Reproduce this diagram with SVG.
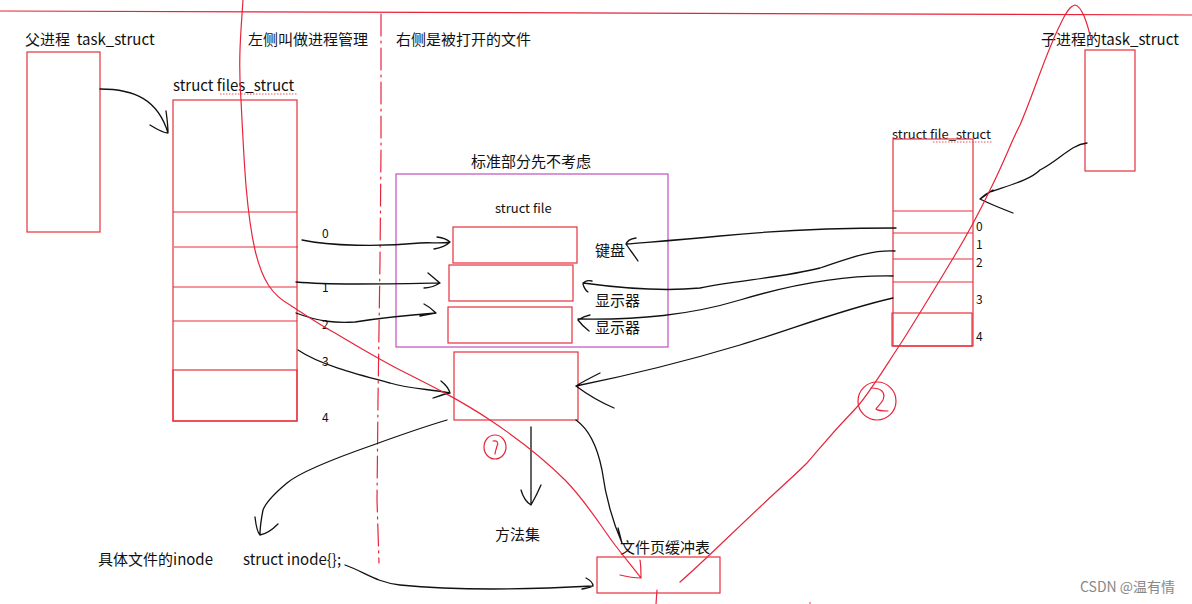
<svg xmlns="http://www.w3.org/2000/svg" width="1192" height="604" viewBox="0 0 1192 604">
<style>
text{font-family:"Noto Sans CJK SC","Liberation Sans",sans-serif;fill:#111;font-size:15px;white-space:pre}
.s{font-size:13px}
.n{font-size:12px}
.box{fill:none;stroke:#e8303c;stroke-width:1.2}
.pbox{fill:none;stroke:#c24fc0;stroke-width:1.2}
.ink{fill:none;stroke:#111;stroke-width:1.3;stroke-linecap:round;stroke-linejoin:round}
.red{fill:none;stroke:#e8243a;stroke-width:1.2;stroke-linecap:round;stroke-linejoin:round}
.wave{fill:none;stroke:#e8243a;stroke-width:0.8;stroke-dasharray:1.5 1.5}
</style>
<rect width="1192" height="604" fill="#fff"/>
<!-- top line & divider -->
<path class="red" d="M0,11 L1192,15"/>
<path class="red" d="M381,14 L381,150 L380,260 L378,400 L377,500 L379,563" stroke-dasharray="22 5 2 5" stroke-linecap="butt"/>

<g id="parent-task">
<text x="25" y="45" xml:space="preserve">父进程  task_struct</text>
<rect class="box" x="27" y="52" width="73" height="180"/>
</g>

<g id="titles">
<text x="248" y="45">左侧叫做进程管理</text>
<text x="396" y="45">右侧是被打开的文件</text>
</g>

<g id="files-struct">
<text x="173" y="91">struct files_struct</text>
<path class="wave" d="M220,94 L297,94"/>
<rect class="box" x="173" y="100" width="124" height="321"/>
<path class="box" d="M173,212 H297 M174,247 H298 M173,287 H297 M173,321 H297"/>
<rect class="box" x="173" y="370" width="124" height="51" stroke-width="2"/>
<text class="n" x="322" y="238">0</text>
<text class="n" x="322" y="292">1</text>
<text class="n" x="322" y="329">2</text>
<text class="n" x="322" y="366">3</text>
<text class="n" x="322" y="422">4</text>
</g>

<g id="struct-file">
<text x="471" y="167">标准部分先不考虑</text>
<rect class="pbox" x="396" y="174" width="272" height="173"/>
<text class="s" x="495" y="213">struct file</text>
<rect class="box" x="453" y="227" width="124" height="36"/>
<rect class="box" x="449" y="265" width="124" height="36"/>
<rect class="box" x="448" y="307" width="124" height="36"/>
<text x="595" y="256">键盘</text>
<text x="595" y="306">显示器</text>
<text x="595" y="333">显示器</text>
</g>

<g id="file-4">
<rect class="box" x="454" y="352" width="124" height="68"/>
</g>

<g id="file-struct-child">
<text class="s" x="892" y="139">struct file_struct</text>
<path class="wave" d="M933,142 L993,142"/>
<rect class="box" x="893" y="139" width="80" height="207"/>
<path class="box" d="M893,211 H973 M893,233 H973 M893,259 H973 M893,282 H973"/>
<rect class="box" x="892" y="313" width="80" height="33" stroke-width="1.5"/>
<text class="n" x="976" y="231">0</text>
<text class="n" x="976" y="249">1</text>
<text class="n" x="976" y="267">2</text>
<text class="n" x="976" y="304">3</text>
<text class="n" x="976" y="341">4</text>
</g>

<g id="child-task">
<text x="1041" y="45">子进程的task_struct</text>
<rect class="box" x="1085" y="50" width="50" height="121"/>
</g>

<g id="methods">
<text x="495" y="540">方法集</text>
</g>

<g id="inode">
<text x="98" y="565">具体文件的inode</text>
<text x="243" y="565">struct inode{};</text>
</g>

<g id="page-cache">
<text x="620" y="553">文件页缓冲表</text>
<rect class="box" x="597" y="557" width="123" height="36"/>
</g>

<g id="connectors">
<!-- parent -> files_struct -->
<path class="ink" d="M100,89 C135,89 158,100 168,133 M150,125 C158,130 163,133 168,133 C168,125 167,118 166,111"/>
<!-- fd 0..3 -> struct file -->
<path class="ink" d="M302,240 C330,246 380,247 420,243 C430,242 440,244 450,242 M437,237 C444,238 448,240 450,242 C446,246 440,248 434,249"/>
<path class="ink" d="M296,282 C330,285 380,284 440,283 M428,273 C433,277 437,281 440,283 C435,286 430,288 424,288"/>
<path class="ink" d="M296,313 C320,322 335,323 355,322 C380,318 410,315 436,313 M424,304 C430,307 433,310 436,313 C430,314 425,315 420,316"/>
<path class="ink" d="M298,350 C320,365 360,375 390,383 C410,389 430,389 450,393 M441,381 C446,385 449,389 450,393 C444,394 439,396 433,398"/>
<!-- child fd -> devices -->
<path class="ink" d="M896,228 C840,228 780,230 720,236 C680,240 650,242 626,244 M636,238 C630,239 627,241 626,244 C630,250 634,255 638,261"/>
<path class="ink" d="M895,251 C870,250 850,258 820,268 C780,278 740,280 700,288 C660,292 620,288 583,283 M592,281 C587,280 584,282 583,284 C584,288 585,290 588,292"/>
<path class="ink" d="M893,276 C840,275 790,285 740,300 C690,315 640,320 578,319 M590,315 C585,316 581,318 578,320 C581,324 585,328 589,331"/>
<path class="ink" d="M893,298 C840,310 790,330 740,345 C690,360 640,373 576,386 M600,373 C592,377 584,381 576,386 C588,395 600,402 614,408"/>
<!-- child task -> file_struct -->
<path class="ink" d="M1087,143 C1070,145 1060,160 1040,170 C1030,180 1010,185 990,192 C986,195 982,198 980,199 M993,190 C987,193 982,197 980,199 C990,204 1000,208 1013,213"/>
<!-- file -> inode -->
<path class="ink" d="M447,420 C420,428 395,437 373,445 C330,460 300,472 287,483 C275,493 266,502 263,510 C261,520 260,528 260,535 M255,517 C256,526 257,532 260,535 C266,534 272,530 278,524"/>
<!-- file -> methods -->
<path class="ink" d="M531,427 L531,505 M521,490 C523,497 526,502 531,505 C535,498 538,492 541,485"/>
<!-- file -> page cache -->
<path class="ink" d="M576,420 C590,430 598,450 602,470 C606,500 612,520 622,543 M618,528 C620,535 621,540 622,543"/>
<!-- inode -> page cache -->
<path class="ink" d="M345,565 C365,572 375,582 400,585 C450,590 520,590 593,586 M586,578 C590,580 593,583 593,586 C590,588 586,588 582,589"/>
</g>

<g id="red-annotations">
<!-- path 1 -->
<path class="red" d="M243,0 C241,30 238,60 241,100 C244,160 246,210 255,250 C262,280 272,295 290,305 C310,318 320,325 335,333 C360,348 375,357 400,370 C430,385 460,400 490,420 C520,440 545,460 565,480 C585,500 600,525 615,545 C625,558 635,570 641,578 M620,575 C628,577 634,578 641,578 C641,572 641,566 640,560"/>
<ellipse class="red" cx="495" cy="447" rx="11" ry="12"/>
<path class="red" d="M493,441 C497,440 499,443 497,446 C496,450 495,452 495,454"/>
<!-- path 2 -->
<path class="red" d="M680,582 C700,565 730,535 760,507 C780,488 795,475 807,463 C820,448 830,435 857,407 C870,392 880,375 903,340 C925,305 940,280 955,255 C970,230 978,215 990,190 C1005,160 1012,140 1020,125 C1035,90 1045,55 1060,25 C1066,12 1070,6 1075,5 C1082,6 1088,25 1091,40"/>
<circle class="red" cx="877" cy="401" r="19"/>
<path class="red" d="M871,388 C881,388 886,392 883,400 C880,405 876,408 876,409 C878,411 882,411 888,411"/>
<path class="red" d="M657,590 L656,604"/>
<circle cx="810" cy="603" r="0.8" fill="#e8243a"/>
</g>

<text x="1080" y="592" style="font-size:14px;fill:#888">CSDN @温有情</text>
</svg>
